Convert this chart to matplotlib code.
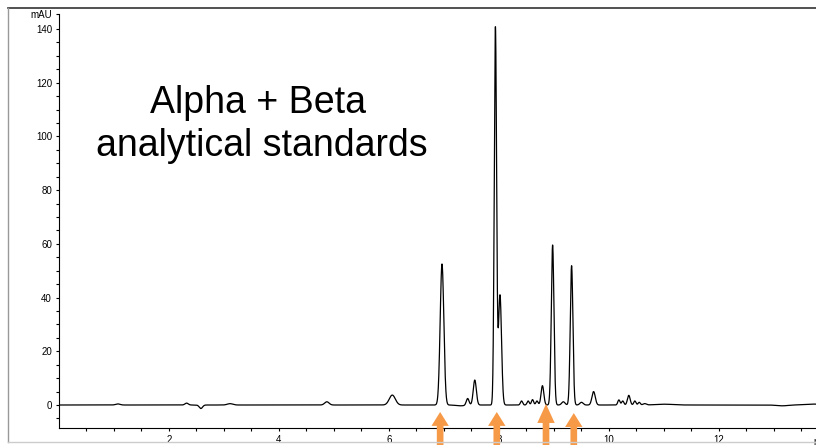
import numpy as np
import matplotlib
matplotlib.use("Agg")
import matplotlib.pyplot as plt
from matplotlib.lines import Line2D
from matplotlib.patches import FancyArrowPatch, ArrowStyle

plt.rcParams['font.family'] = ['Liberation Sans', 'DejaVu Sans']

# peak table (retention time [min], height [mAU], sigma [min])
peak_times = [1.07, 2.32, 2.58, 3.11, 4.87, 6.06, 6.964, 7.30, 7.43, 7.56,
              7.935, 8.018, 8.41, 8.53, 8.61, 8.69, 8.79, 8.975, 9.17, 9.32,
              9.50, 9.72, 10.18, 10.25, 10.36, 10.47, 10.55, 10.65, 11.0, 13.15, 13.7]
peak_heights = [0.4, 0.7, -1.3, 0.5, 1.2, 3.7, 52.5, -0.3, 2.5, 9.3,
                140.5, 41.0, 1.5, 1.5, 2.0, 1.5, 7.2, 59.6, 1.2, 51.9,
                1.0, 5.0, 1.9, 1.5, 3.6, 1.5, 1.0, 0.5, 0.3, -0.3, 0.35]
peak_sigmas = [0.04, 0.03, 0.03, 0.05, 0.04, 0.055, 0.033, 0.08, 0.025, 0.028,
               0.021, 0.028, 0.02, 0.02, 0.02, 0.02, 0.025, 0.024, 0.03, 0.024,
               0.03, 0.03, 0.02, 0.02, 0.025, 0.02, 0.02, 0.03, 0.15, 0.1, 0.15]

# orange markers under the peaks of interest (time, tip height in mAU)
arrow_times = [6.93, 7.96, 8.855, 9.36]
arrow_tips = [-2.6, -2.6, 0.4, -3.0]

y_ticks = [0, 20, 40, 60, 80, 100, 120, 140]
x_ticks = [2, 4, 6, 8, 10, 12]

t = np.linspace(0, 13.8, 6000)
signal = np.zeros_like(t)
for tc, h, s in zip(peak_times, peak_heights, peak_sigmas):
    signal += h * np.exp(-0.5 * ((t - tc) / s) ** 2)

W, H = 816, 445
fig = plt.figure(figsize=(W / 100, H / 100), dpi=100)
ax = fig.add_axes([59 / W, (H - 428) / H, (W - 59) / W, (428 - 14) / H])

ax.plot(t, signal, color='black', lw=0.9)
ax.set_xlim(0, 13.764)
ax.set_ylim(-8.56, 145.55)

for s in ['top', 'right']:
    ax.spines[s].set_visible(False)
for s in ['left', 'bottom']:
    ax.spines[s].set_linewidth(0.8)

ax.set_yticks(y_ticks + [145.55])
ax.set_yticklabels([str(v) for v in y_ticks] + ['mAU'])
ax.get_yticklabels()[-1].set_fontsize(6.5)
ax.set_yticks(np.arange(-5, 145, 5), minor=True)
ax.set_xticks(x_ticks)
ax.set_xticks(np.arange(0.5, 13.6, 0.5), minor=True)
ax.tick_params(which='both', direction='out', length=2.5, width=0.8,
               labelsize=7, pad=2.5)
ax.text(13.72, -11.8, 'min', fontsize=7, ha='left', va='top', clip_on=False)

ax.text(3.61, 108.7, 'Alpha + Beta', fontsize=27, ha='center', va='baseline')
ax.text(3.69, 92.7, 'analytical standards', fontsize=27, ha='center', va='baseline')

for i, (xa, ya) in enumerate(zip(arrow_times, arrow_tips)):
    hl = 13.7 if i == 2 else 10.0
    style = ArrowStyle.Simple(head_length=hl, head_width=12.5, tail_width=4.8)
    arr = FancyArrowPatch((xa, -25), (xa, ya), arrowstyle=style, mutation_scale=1,
                          color='#F79A48', lw=0, shrinkA=0, shrinkB=0,
                          clip_on=False, zorder=10)
    ax.add_patch(arr)

# outer frame of the original screenshot
fig.add_artist(Line2D([8 / W, 1], [1 - 8 / H, 1 - 8 / H], color='#333333', lw=1.2))
fig.add_artist(Line2D([8 / W, 8 / W], [1 - 8 / H, 1 - 442 / H], color='#999999', lw=1.0))
fig.add_artist(Line2D([8 / W, 1], [1 - 442 / H, 1 - 442 / H], color='#cccccc', lw=1.0))

fig.savefig('out.png', dpi=100)
